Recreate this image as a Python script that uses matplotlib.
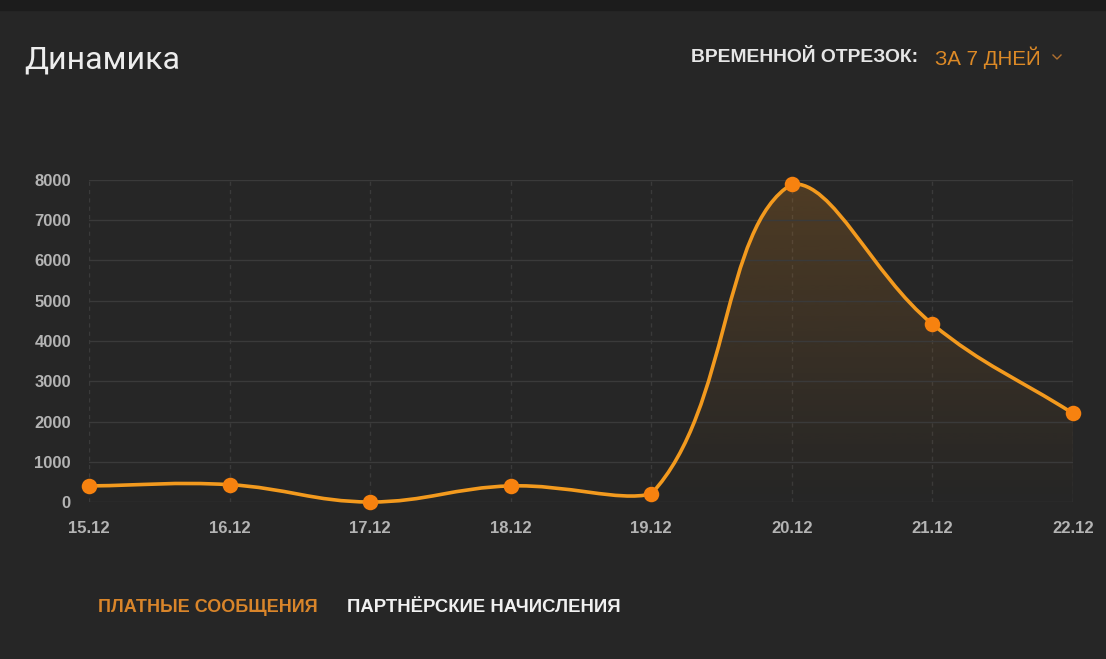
import numpy as np
import matplotlib
matplotlib.use("Agg")
import matplotlib.pyplot as plt
from matplotlib.path import Path
from matplotlib.patches import PathPatch
from matplotlib.lines import Line2D

# data
dates = ["15.12", "16.12", "17.12", "18.12", "19.12", "20.12", "21.12", "22.12"]
values = [400, 430, 0, 400, 200, 7900, 4420, 2200]
y_ticks = [0, 1000, 2000, 3000, 4000, 5000, 6000, 7000, 8000]

title = "Динамика"
period_label = "ВРЕМЕННОЙ ОТРЕЗОК:"
period_value = "ЗА 7 ДНЕЙ"
legend_items = ["ПЛАТНЫЕ СООБЩЕНИЯ", "ПАРТНЁРСКИЕ НАЧИСЛЕНИЯ"]

bg = "#262626"
orange = "#f39a1e"
marker_c = "#f7820f"
grid_c = "#3a3a3a"
tick_c = "#b4b4b4"

plt.rcParams["font.family"] = ["Liberation Sans", "DejaVu Sans"]

fig = plt.figure(figsize=(11.06, 6.59), dpi=100, facecolor=bg)
# darker strip on top
fig.patches.append(plt.Rectangle((0, 0.985), 1, 0.015, transform=fig.transFigure,
                                 color="#1c1c1c", zorder=0))

ax = fig.add_axes([89 / 1106, 157 / 659, (1073 - 89) / 1106, (502 - 180) / 659])
ax.set_facecolor(bg)
x = np.arange(len(dates))
ax.set_xlim(0, len(dates) - 1)
ax.set_ylim(0, 8000)

# chart.js-like bezier curve (tension 0.4), computed in pixel space
pts = ax.transData.transform(np.column_stack([x, values]))
bb = ax.bbox
n = len(pts)
cps = []
t = 0.4
for i in range(n):
    prev = pts[max(i - 1, 0)]
    cur = pts[i]
    nxt = pts[min(i + 1, n - 1)]
    d01 = np.hypot(*(cur - prev))
    d12 = np.hypot(*(nxt - cur))
    tot = d01 + d12 if d01 + d12 > 0 else 1
    fa = t * d01 / tot
    fb = t * d12 / tot
    pcp = cur - fa * (nxt - prev)
    ncp = cur + fb * (nxt - prev)
    pcp[1] = np.clip(pcp[1], bb.y0, bb.y1)
    ncp[1] = np.clip(ncp[1], bb.y0, bb.y1)
    cps.append((pcp, ncp))

inv = ax.transData.inverted()
verts = [pts[0]]
codes = [Path.MOVETO]
for i in range(n - 1):
    verts += [cps[i][1], cps[i + 1][0], pts[i + 1]]
    codes += [Path.CURVE4] * 3
verts = inv.transform(np.array(verts))
curve = Path(verts, codes)

# gradient fill under curve (stronger at the top)
fill_verts = np.vstack([verts, [[x[-1], 0], [x[0], 0], verts[0]]])
fill_codes = codes + [Path.LINETO, Path.LINETO, Path.CLOSEPOLY]
fill_path = Path(fill_verts, fill_codes)
grad = np.zeros((256, 1, 4))
grad[:, 0, :3] = matplotlib.colors.to_rgb("#d9851f")
grad[:, 0, 3] = np.linspace(0.27, 0.0, 256) ** 1.1
im = ax.imshow(grad, extent=[x[0], x[-1], 0, 8000], origin="upper", aspect="auto",
               zorder=1, interpolation="bilinear")
clip = PathPatch(fill_path, transform=ax.transData, facecolor="none", edgecolor="none")
ax.add_patch(clip)
im.set_clip_path(clip)
ax.set_xlim(0, len(dates) - 1)
ax.set_ylim(0, 8000)

ax.add_patch(PathPatch(curve, facecolor="none", edgecolor=orange, lw=2.6, zorder=3,
                       capstyle="round", joinstyle="round", clip_on=False))
ax.scatter(x, values, s=125, color=marker_c, zorder=4, clip_on=False, linewidths=0)

# grid
ax.set_yticks(y_ticks)
ax.set_xticks(x)
ax.set_xticklabels(dates)
ax.grid(axis="y", color=grid_c, lw=1, zorder=0)
for xi in x:
    ax.axvline(xi, color=grid_c, lw=1, ls=(0, (3, 3)), zorder=0)
ax.axvline(x[-1], color=grid_c, lw=1, zorder=0)
for s in ax.spines.values():
    s.set_visible(False)
ax.tick_params(length=0, colors=tick_c, labelsize=12)
ax.tick_params(axis="y", pad=13)
ax.tick_params(axis="x", pad=14)
for lbl in ax.get_xticklabels() + ax.get_yticklabels():
    lbl.set_fontweight("bold")
    lbl.set_color(tick_c)

# header texts
fig.text(24 / 1106, 1 - 60 / 659, title, color="#ededed", fontsize=23,
         family=["Roboto", "DejaVu Sans"], va="center", ha="left")
fig.text(918 / 1106, 1 - 58 / 659, period_label, color="#e6e6e6", fontsize=13.9,
         fontweight="bold", va="center", ha="right")
fig.text(935 / 1106, 1 - 58 / 659, period_value, color="#dd8a26", fontsize=14.8,
         va="center", ha="left")
fig.lines.append(Line2D([1053 / 1106, 1057 / 1106, 1061 / 1106],
                        [1 - 55 / 659, 1 - 59 / 659, 1 - 55 / 659],
                        transform=fig.transFigure, color="#b07030", lw=1))

# legend texts
fig.text(98 / 1106, 1 - 608 / 659, legend_items[0], color="#d9852a", fontsize=13,
         fontweight="bold", va="center", ha="left")
fig.text(347 / 1106, 1 - 608 / 659, legend_items[1], color="#f0f0f0", fontsize=13.3,
         fontweight="bold", va="center", ha="left")

fig.savefig("out.png", dpi=100, facecolor=bg)
